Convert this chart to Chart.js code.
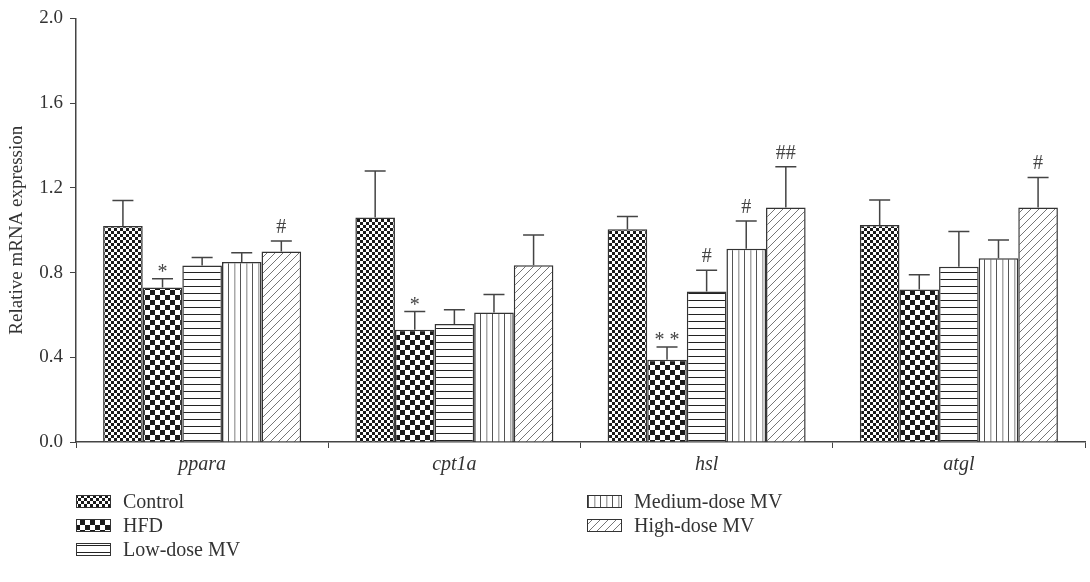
<!DOCTYPE html>
<html>
<head>
<meta charset="utf-8">
<script src="https://cdn.jsdelivr.net/npm/chart.js"></script>
<style>
    body { margin: 0; background: #fff; }
    .chart-box { width: 1090px; height: 582px; }
</style>
</head>
<body>
<div class="chart-box"><canvas id="mrnaChart"></canvas></div>
<script>
const categories = ['ppara', 'cpt1a', 'hsl', 'atgl']
const groups = ['Control', 'HFD', 'Low-dose MV', 'Medium-dose MV', 'High-dose MV']

const controlValues = [1.02, 1.06, 1.005, 1.025]
const hfdValues = [0.73, 0.53, 0.388, 0.72]
const lowValues = [0.833, 0.557, 0.71, 0.827]
const mediumValues = [0.85, 0.611, 0.913, 0.868]
const highValues = [0.899, 0.835, 1.107, 1.107]

const controlErr = [0.12, 0.22, 0.06, 0.118]
const hfdErr = [0.041, 0.086, 0.061, 0.07]
const lowErr = [0.038, 0.068, 0.101, 0.167]
const mediumErr = [0.044, 0.085, 0.13, 0.086]
const highErr = [0.05, 0.142, 0.192, 0.142]

// significance marks above the error bars
const controlMarks = ['', '', '', '']
const hfdMarks = ['*', '*', '* *', '']
const lowMarks = ['', '', '#', '']
const mediumMarks = ['', '', '#', '']
const highMarks = ['#', '', '##', '#']

const yTicks = [0, 0.4, 0.8, 1.2, 1.6, 2.0]

const serif = '"Liberation Serif", "DejaVu Serif", serif'

function makePattern(kind) {
    const c = document.createElement('canvas')
    const g = c.getContext('2d')
    if (kind === 'fineCheck' || kind === 'coarseCheck') {
        const s = kind === 'fineCheck' ? 3 : 5
        c.width = s * 2
        c.height = s * 2
        g.fillStyle = '#fff'
        g.fillRect(0, 0, s * 2, s * 2)
        g.fillStyle = '#1a1a1a'
        g.fillRect(0, 0, s, s)
        g.fillRect(s, s, s, s)
    } else if (kind === 'hLines') {
        c.width = 7
        c.height = 7
        g.fillStyle = '#fff'
        g.fillRect(0, 0, 7, 7)
        g.fillStyle = '#222'
        g.fillRect(0, 6, 7, 1)
    } else if (kind === 'vLines') {
        c.width = 12
        c.height = 12
        g.fillStyle = '#fff'
        g.fillRect(0, 0, 12, 12)
        g.fillStyle = '#555'
        g.fillRect(0, 0, 1, 12)
        g.fillStyle = '#aaa'
        g.fillRect(6, 0, 1.5, 12)
    } else {
        c.width = 8
        c.height = 8
        g.fillStyle = '#fff'
        g.fillRect(0, 0, 8, 8)
        g.strokeStyle = '#666'
        g.lineWidth = 0.9
        g.beginPath()
        g.moveTo(0, 8); g.lineTo(8, 0)
        g.moveTo(-4, 4); g.lineTo(4, -4)
        g.moveTo(4, 12); g.lineTo(12, 4)
        g.stroke()
    }
    return g.createPattern(c, 'repeat')
}

const patterns = [
    makePattern('fineCheck'),
    makePattern('coarseCheck'),
    makePattern('hLines'),
    makePattern('vLines'),
    makePattern('diag')
]

const allValues = [controlValues, hfdValues, lowValues, mediumValues, highValues]
const allErr = [controlErr, hfdErr, lowErr, mediumErr, highErr]
const allMarks = [controlMarks, hfdMarks, lowMarks, mediumMarks, highMarks]

const errorBarPlugin = {
    id: 'errorBars',
    afterDatasetsDraw(chart) {
        const ctx = chart.ctx
        const y = chart.scales.y
        ctx.save()
        chart.data.datasets.forEach((ds, i) => {
            const meta = chart.getDatasetMeta(i)
            meta.data.forEach((bar, j) => {
                const top = y.getPixelForValue(ds.data[j])
                const cap = y.getPixelForValue(ds.data[j] + allErr[i][j])
                ctx.strokeStyle = '#444'
                ctx.lineWidth = 1.5
                ctx.beginPath()
                ctx.moveTo(bar.x, top)
                ctx.lineTo(bar.x, cap)
                ctx.moveTo(bar.x - 10.5, cap)
                ctx.lineTo(bar.x + 10.5, cap)
                ctx.stroke()

                const mark = allMarks[i][j]
                if (mark) {
                    ctx.fillStyle = '#444'
                    ctx.font = '20px ' + serif
                    ctx.textAlign = 'center'
                    ctx.textBaseline = 'alphabetic'
                    const lift = mark.indexOf('#') >= 0 ? 8 : 1
                    ctx.fillText(mark, bar.x, cap - lift)
                }
            })
        })
        ctx.restore()
    }
}

const legendPlugin = {
    id: 'groupLegend',
    afterDraw(chart) {
        const ctx = chart.ctx
        const left = chart.chartArea.left
        const spots = [
            [left, 502], [left, 526], [left, 550],
            [left + 511, 502], [left + 511, 526]
        ]
        ctx.save()
        chart.data.datasets.forEach((ds, i) => {
            const [bx, by] = spots[i]
            ctx.fillStyle = patterns[i]
            ctx.fillRect(bx, by - 7, 35, 13)
            ctx.strokeStyle = '#333'
            ctx.lineWidth = 1
            ctx.strokeRect(bx + 0.5, by - 6.5, 34, 12)
            ctx.fillStyle = '#333'
            ctx.font = '20px ' + serif
            ctx.textAlign = 'left'
            ctx.textBaseline = 'middle'
            ctx.fillText(ds.label, bx + 47, by + 1)
        })
        ctx.restore()
    }
}

const ctx = document.querySelector('#mrnaChart').getContext('2d')

const myChart = new Chart(ctx, {
    type: 'bar',
    data: {
        labels: categories,
        datasets: groups.map((name, i) => ({
            label: name,
            data: allValues[i],
            backgroundColor: patterns[i],
            borderColor: '#333',
            borderWidth: 1.5,
            borderSkipped: 'bottom'
        }))
    },
    options: {
        responsive: true,
        maintainAspectRatio: false,
        animation: false,
        layout: {
            padding: { top: 5, right: 5, bottom: 100, left: 0 }
        },
        datasets: {
            bar: { categoryPercentage: 0.785, barPercentage: 1 }
        },
        plugins: {
            legend: { display: false },
            tooltip: { enabled: false }
        },
        scales: {
            x: {
                grid: { display: true, drawOnChartArea: false, tickLength: 6, color: '#444' },
                border: { display: true, color: '#444', width: 1.5 },
                ticks: {
                    color: '#333',
                    padding: 5,
                    font: { family: serif, size: 20, style: 'italic' }
                },
                afterFit(scale) { scale.height = 40 }
            },
            y: {
                min: 0,
                max: 2,
                afterBuildTicks(scale) {
                    scale.ticks = yTicks.map(v => ({ value: v }))
                },
                grid: { display: true, drawOnChartArea: false, tickLength: 6, color: '#444' },
                border: { display: true, color: '#444', width: 1.5 },
                ticks: {
                    color: '#333',
                    padding: 7,
                    font: { family: serif, size: 19 },
                    callback: value => value.toFixed(1)
                },
                title: {
                    display: true,
                    text: 'Relative mRNA expression',
                    color: '#333',
                    font: { family: serif, size: 19 },
                    padding: { top: 6, bottom: 0 }
                },
                afterFit(scale) { scale.width = 76 }
            }
        }
    },
    plugins: [errorBarPlugin, legendPlugin]
})
</script>
</body>
</html>
